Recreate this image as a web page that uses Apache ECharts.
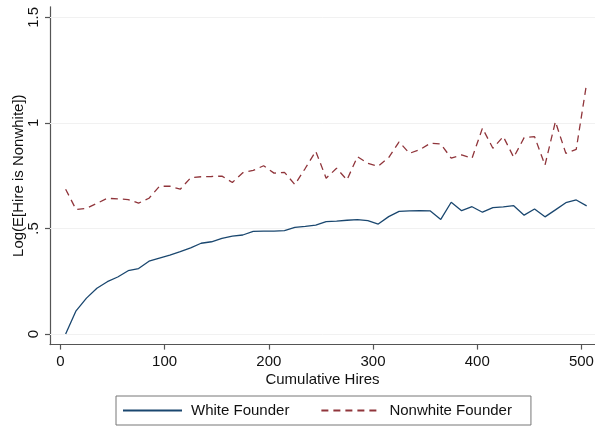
<!DOCTYPE html>
<html>
<head>
<meta charset="utf-8">
<script src="https://cdn.jsdelivr.net/npm/echarts@6/dist/echarts.min.js"></script>
<style>html,body{margin:0;padding:0;background:#fff;}#c{width:595px;height:428px;}</style>
</head>
<body>
<div id="c"></div>
<script>
const hires = [5,15,25,35,45,55,65,75,85,95,105,115,125,135,145,155,165,175,185,195,205,215,225,235,245,255,265,275,285,295,305,315,325,335,345,355,365,375,385,395,405,415,425,435,445,455,465,475,485,495,505];
const whiteFounder = [0.00,0.11,0.17,0.217,0.248,0.27,0.30,0.31,0.345,0.36,0.374,0.39,0.408,0.43,0.437,0.453,0.464,0.469,0.486,0.487,0.487,0.49,0.505,0.51,0.516,0.532,0.535,0.539,0.542,0.537,0.521,0.556,0.581,0.583,0.584,0.583,0.543,0.624,0.584,0.603,0.577,0.599,0.602,0.608,0.563,0.592,0.555,0.588,0.622,0.635,0.607];
const nonwhiteFounder = [0.686,0.59,0.595,0.619,0.643,0.64,0.637,0.62,0.643,0.70,0.70,0.686,0.74,0.745,0.746,0.748,0.718,0.764,0.775,0.797,0.762,0.766,0.708,0.785,0.866,0.738,0.785,0.73,0.84,0.808,0.795,0.836,0.91,0.856,0.873,0.904,0.90,0.833,0.848,0.833,0.975,0.88,0.935,0.837,0.93,0.935,0.80,1.006,0.856,0.875,1.188];
const xTicks = [0,100,200,300,400,500];
const yTicks = [0,0.5,1,1.5];
const yTickLabels = ['0','.5','1','1.5'];

const FONT = 'Liberation Sans';
const chart = echarts.init(document.getElementById('c'));
chart.setOption({
  animation: false,
  backgroundColor: '#ffffff',
  textStyle: {fontFamily: FONT},
  grid: {left: 50, right: 0, top: 6.75, bottom: 83.4, containLabel: false, outerBoundsMode: 'none'},
  xAxis: {
    type: 'value', min: -10, max: 513,
    name: 'Cumulative Hires', nameLocation: 'middle', nameGap: 28, nameMoveOverlap: false,
    nameTextStyle: {fontFamily: FONT, fontSize: 15, color: '#111'},
    axisLine: {show: true, onZero: false, lineStyle: {color: '#555', width: 1.2}},
    axisTick: {show: true, length: 5, customValues: xTicks, lineStyle: {color: '#555', width: 1.2}},
    axisLabel: {customValues: xTicks, fontFamily: FONT, fontSize: 15, color: '#111', margin: 10},
    splitLine: {show: false}
  },
  yAxis: {
    type: 'value', min: -0.05, max: 1.55,
    name: 'Log(E[Hire is Nonwhite])', nameLocation: 'middle', nameGap: 24, nameMoveOverlap: false,
    nameTextStyle: {fontFamily: FONT, fontSize: 15, color: '#111'},
    axisLine: {show: true, onZero: false, lineStyle: {color: '#555', width: 1.2}},
    axisTick: {show: true, length: 5, customValues: yTicks, lineStyle: {color: '#555', width: 1.2}},
    axisLabel: {customValues: yTicks, rotate: 90, fontFamily: FONT, fontSize: 15, color: '#111', margin: 9,
      formatter: function (v) { const i = yTicks.indexOf(v); return i >= 0 ? yTickLabels[i] : ''; }},
    splitLine: {show: false}
  },
  legend: {
    left: 116, top: 396,
    padding: [7, 19, 7, 6],
    borderColor: '#777', borderWidth: 1,
    itemWidth: 59, itemHeight: 14, itemGap: 31,
    itemStyle: {color: 'rgba(0,0,0,0)', borderWidth: 0, opacity: 0},
    textStyle: {fontFamily: FONT, fontSize: 15, color: '#111', padding: [0, 0, 0, 4]},
    data: ['White Founder', 'Nonwhite Founder']
  },
  series: [
    {
      name: 'White Founder', type: 'line', symbol: 'none', z: 3,
      data: hires.map((h, i) => [h, whiteFounder[i]]),
      lineStyle: {color: '#1a476f', width: 1.3},
      itemStyle: {color: '#1a476f'},
      markLine: {silent: true, z: 1, symbol: 'none', label: {show: false},
        lineStyle: {color: '#f1f1f1', type: 'solid', width: 1},
        data: yTicks.map(v => ({yAxis: v}))}
    },
    {
      name: 'Nonwhite Founder', type: 'line', symbol: 'none', z: 3,
      data: hires.map((h, i) => [h, nonwhiteFounder[i]]),
      lineStyle: {color: '#90353b', width: 1.3, type: [7, 5]},
      itemStyle: {color: '#90353b'}
    }
  ]
});
</script>
</body>
</html>
